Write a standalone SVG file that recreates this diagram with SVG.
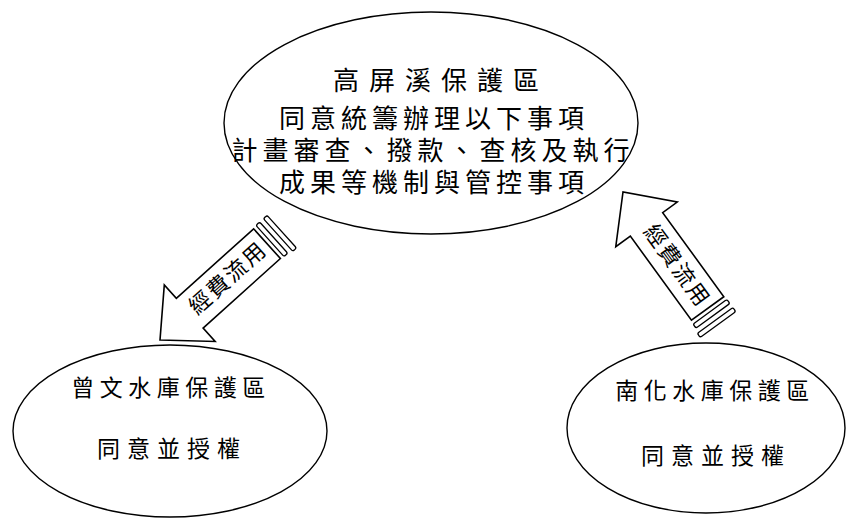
<svg xmlns="http://www.w3.org/2000/svg" width="847" height="520" viewBox="0 0 847 520">
<defs>
<style>
.node{fill:#fff;stroke:#000;stroke-width:1.4}
.t{font-family:"Liberation Sans","Noto Sans CJK TC","Noto Sans CJK SC",sans-serif;fill:#000;text-anchor:middle}
.arrow{fill:#fff;stroke:#000;stroke-width:1.6;stroke-linejoin:miter}
.bar{fill:#fff;stroke:#000;stroke-width:1.3}
.at{font-family:"Liberation Sans","Noto Sans CJK TC","Noto Sans CJK SC",sans-serif;font-size:22px;fill:#000;text-anchor:middle;dominant-baseline:central;letter-spacing:2px}
</style>
<g id="blockArrow">
<path class="arrow" d="M0,0 L-40,-38 L-40,-20 L-144,-20 L-144,20 L-40,20 L-40,38 Z"/>
<rect class="bar" x="-153" y="-21" width="5" height="42" rx="2"/>
<rect class="bar" x="-163" y="-23" width="5" height="44" rx="2"/>
</g>
</defs>
<rect width="847" height="520" fill="#fff"/>
<g id="top">
<ellipse class="node" cx="431" cy="123" rx="207" ry="111"/>
<text class="t" x="441" y="90" font-size="26" letter-spacing="10">高屏溪保護區</text>
<text class="t" x="434" y="128" font-size="26" letter-spacing="5">同意統籌辦理以下事項</text>
<text class="t" x="433" y="160" font-size="26" letter-spacing="5">計畫審查、撥款、查核及執行</text>
<text class="t" x="434" y="192" font-size="26" letter-spacing="5">成果等機制與管控事項</text>
</g>
<g id="left">
<ellipse class="node" cx="170" cy="431" rx="157" ry="86"/>
<text class="t" x="171" y="396" font-size="23" letter-spacing="5.5">曾文水庫保護區</text>
<text class="t" x="172" y="457" font-size="23" letter-spacing="7">同意並授權</text>
</g>
<g id="right">
<ellipse class="node" cx="706" cy="428" rx="139" ry="85"/>
<text class="t" x="715" y="399" font-size="23" letter-spacing="5.5">南化水庫保護區</text>
<text class="t" x="716" y="464" font-size="23" letter-spacing="7">同意並授權</text>
</g>
<g id="connectors">
<g id="arrowLeft">
<use href="#blockArrow" transform="translate(160,340) rotate(138)"/>
<text class="at" transform="translate(228,278) rotate(-42)">經費流用</text>
</g>
<g id="arrowRight">
<use href="#blockArrow" transform="translate(623,192) rotate(-126)"/>
<text class="at" transform="translate(677,266) rotate(54)">經費流用</text>
</g>
</g>
</svg>
